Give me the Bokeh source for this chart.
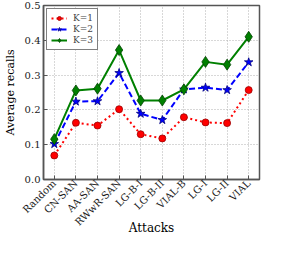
import math
from bokeh.plotting import figure
from bokeh.models import FactorRange, Range1d, FixedTicker, PrintfTickFormatter, Legend, LegendItem
from bokeh.embed import file_html
from bokeh.resources import INLINE

attacks = ["Random", "CN-SAN", "AA-SAN", "RWwR-SAN", "LG-B-I", "LG-B-II",
           "VIAL-B", "LG-I", "LG-II", "VIAL"]
k1 = [0.069, 0.163, 0.155, 0.202, 0.130, 0.118, 0.179, 0.164, 0.162, 0.257]
k2 = [0.102, 0.224, 0.225, 0.306, 0.189, 0.171, 0.259, 0.264, 0.257, 0.337]
k3 = [0.116, 0.256, 0.261, 0.372, 0.227, 0.227, 0.259, 0.338, 0.330, 0.410]
y_ticks = [0.0, 0.1, 0.2, 0.3, 0.4, 0.5]

FONT = "DejaVu Serif"

p = figure(width=281, height=239, output_backend="svg", toolbar_location=None,
           x_range=FactorRange(factors=attacks, range_padding=0),
           y_range=Range1d(0, 0.5),
           min_border_left=34, min_border_right=22, min_border_top=5, min_border_bottom=60)

p.background_fill_color = "white"
p.border_fill_color = "white"
p.outline_line_color = "#555555"
p.outline_line_width = 1.5

# lines and markers
l1 = p.line(attacks, k1, line_color="#ff0000", line_width=2, line_dash="2 3")
m1 = p.scatter(attacks, k1, marker="circle", size=7, fill_color="#ff0000", line_color="#990000", line_width=0.8)
l2 = p.line(attacks, k2, line_color="#0000ff", line_width=2, line_dash="6 3")
m2 = p.scatter(attacks, k2, marker="star", size=9, fill_color="#0000ff", line_color="#000080", line_width=0.8)
l3 = p.line(attacks, k3, line_color="#008000", line_width=2)
m3 = p.scatter(attacks, k3, marker="diamond", size=11, fill_color="#008000", line_color="#004000", line_width=0.8)

legend = Legend(items=[LegendItem(label="K=1", renderers=[l1, m1]),
                       LegendItem(label="K=2", renderers=[l2, m2]),
                       LegendItem(label="K=3", renderers=[l3, m3])],
                location="top_left")
legend.label_text_font = FONT
legend.label_text_font_size = "9px"
legend.glyph_width = 16
legend.glyph_height = 10
legend.label_height = 10
legend.spacing = 1
legend.padding = 4
legend.margin = 3
legend.label_standoff = 6
legend.border_line_color = "black"
legend.border_line_width = 1
legend.background_fill_alpha = 1
p.add_layout(legend)

# grid
for g in (p.xgrid, p.ygrid):
    g.grid_line_color = "#b0b0b0"
    g.grid_line_dash = "1 2"
    g.grid_line_width = 1
p.ygrid.ticker = FixedTicker(ticks=y_ticks)

# axes
p.yaxis.ticker = FixedTicker(ticks=y_ticks)
p.yaxis.formatter = PrintfTickFormatter(format="%.1f")
for ax in (p.xaxis[0], p.yaxis[0]):
    ax.axis_line_color = "#555555"
    ax.axis_line_width = 1.5
    ax.major_tick_in = 4
    ax.major_tick_out = 0
    ax.minor_tick_in = 0
    ax.minor_tick_out = 0
    ax.major_tick_line_color = "#555555"
    ax.major_label_text_font = FONT
    ax.major_label_text_color = "#1a1a1a"
    ax.axis_label_text_font = FONT
    ax.axis_label_text_font_style = "normal"
    ax.axis_label_text_color = "black"

p.yaxis.major_label_text_font_size = "10px"
p.yaxis.axis_label = "Average recalls"
p.yaxis.axis_label_text_font_size = "11px"
p.yaxis.major_label_standoff = 3
p.yaxis.axis_label_standoff = 5

p.xaxis.major_label_text_font_size = "10px"
p.xaxis.major_label_orientation = math.pi / 4
p.xaxis.major_label_standoff = 2
p.xaxis.axis_label = "Attacks"
p.xaxis.axis_label_text_font_size = "12px"
p.xaxis.axis_label_standoff = -14

open("out.html", "w").write(file_html(p, INLINE))
